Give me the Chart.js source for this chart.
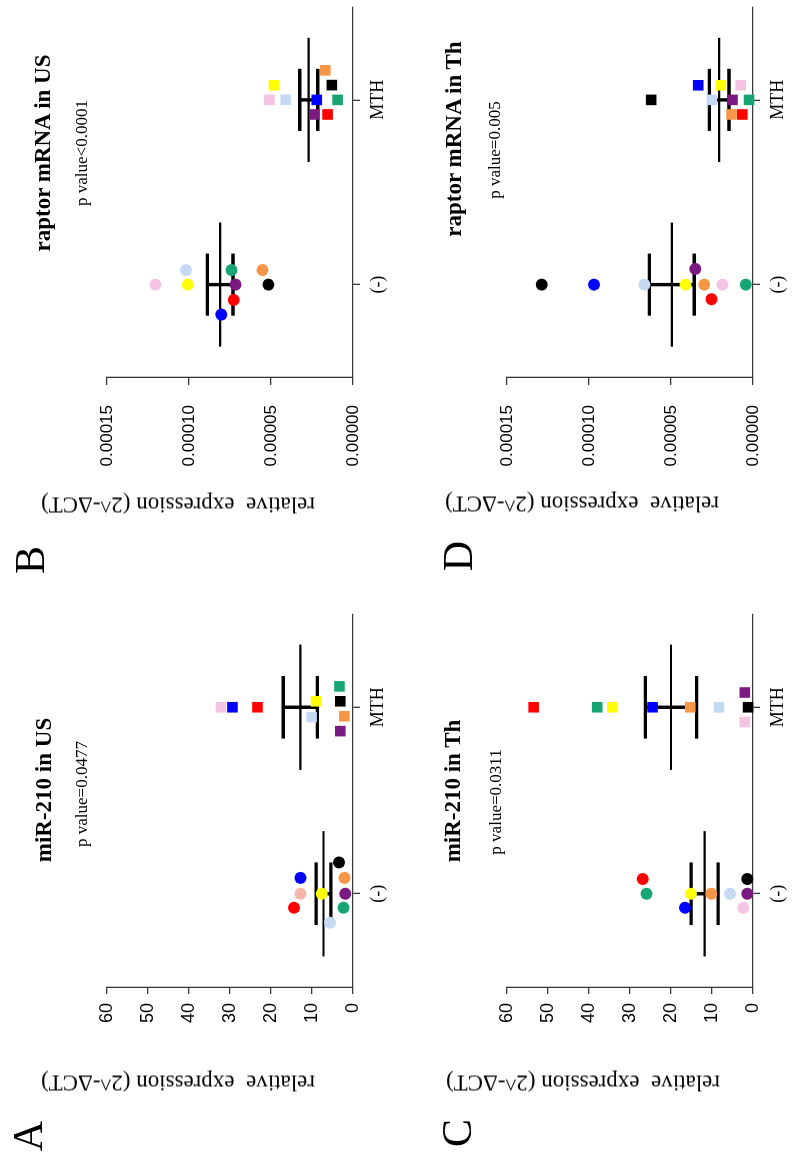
<!DOCTYPE html>
<html>
<head>
<meta charset="utf-8">
<script src="https://cdn.jsdelivr.net/npm/chart.js@4.4.1/dist/chart.umd.min.js"></script>
<style>
  html, body { margin: 0; padding: 0; background: #fff; overflow: hidden; }
  #page { width: 800px; height: 1158px; position: relative; overflow: hidden; }
  /* figure is laid out landscape, then turned a quarter left */
  #fig { position: absolute; left: 0; top: 1158px; width: 1158px; height: 800px;
         transform-origin: 0 0; transform: rotate(-90deg); }
  .panel { position: absolute; width: 579px; height: 400px; }
  .panel canvas { position: absolute; left: 0; top: 0; }
  .txt { position: absolute; transform: translate(-50%, -50%); white-space: pre;
         font-family: "Liberation Serif", "Times New Roman", serif; color: #000; line-height: 1; }
  .ttl { font-weight: bold; font-size: 23px; }
  .pv { font-size: 17px; }
  .ylab { font-size: 23px; transform: translate(-50%, -50%) rotate(-90deg); }
  .letter { font-size: 42px; }
</style>
</head>
<body>
<div id="page">
  <div id="fig">
    <div class="panel" id="pA" style="left:0;top:0"><canvas id="cA" width="579" height="400"></canvas></div>
    <div class="panel" id="pB" style="left:579px;top:0"><canvas id="cB" width="579" height="400"></canvas></div>
    <div class="panel" id="pC" style="left:0;top:400px"><canvas id="cC" width="579" height="400"></canvas></div>
    <div class="panel" id="pD" style="left:579px;top:400px"><canvas id="cD" width="579" height="400"></canvas></div>
  </div>
</div>
<script>
/* ---------- DATA ---------- */
const groups = ["(-)", "MTH"];
// sample order: red, pink, blue, yellow, light blue, black, orange, purple, green
const sampleColors = ["#ff0000", "#f4c4e2", "#0000ff", "#ffff00", "#c5daf2", "#000000", "#f79646", "#7b1a80", "#17a673"];
const sampleColorsA = ["#ff0000", "#f3b6ad", "#0000ff", "#ffff00", "#c5daf2", "#000000", "#f79646", "#7b1a80", "#17a673"];

// A: miR-210 in US
const aCtrl    = [14.4, 12.8, 12.8, 7.6, 5.6, 3.4, 2.1, 1.9, 2.3];
const aCtrlJit = [-0.075, 0, 0.085, 0, -0.155, 0.168, 0.085, 0, -0.075];
const aMth     = [23.3, 32.2, 29.4, 9.0, 10.1, 3.1, 2.1, 3.1, 3.3];
const aMthJit  = [0, 0, 0, 0.032, -0.053, 0.032, -0.048, -0.128, 0.112];
const aMean = [7.2, 12.85];
const aSem  = [1.8, 4.15];

// B: raptor mRNA in US
const bCtrl    = [7.27e-5, 12.05e-5, 8.03e-5, 10.08e-5, 10.18e-5, 5.16e-5, 5.52e-5, 7.17e-5, 7.41e-5];
const bCtrlJit = [-0.083, 0, -0.162, 0, 0.079, 0, 0.079, 0, 0.079];
const bMth     = [1.55e-5, 5.10e-5, 2.21e-5, 4.82e-5, 4.10e-5, 1.29e-5, 1.69e-5, 2.35e-5, 0.94e-5];
const bMthJit  = [-0.079, 0, 0, 0.079, 0, 0.08, 0.16, -0.079, 0];
const bMean = [8.1e-5, 2.7e-5];
const bSem  = [0.78e-5, 0.55e-5];

// C: miR-210 in Th
const cCtrl    = [26.9, 2.4, 16.6, 15.1, 5.6, 1.4, 10.2, 1.4, 26.0];
const cCtrlJit = [0.079, -0.075, -0.075, 0, 0, 0.079, 0, 0, 0];
const cMth     = [53.5, 2.0, 24.5, 34.3, 8.3, 1.2, 15.3, 2.0, 38.0];
const cMthJit  = [0, -0.079, 0, 0, 0, 0, 0, 0.079, 0];
const cMean = [11.8, 20.0];
const cSem  = [3.3, 6.25];

// D: raptor mRNA in Th
const dCtrl    = [2.53e-5, 1.86e-5, 9.70e-5, 4.12e-5, 6.61e-5, 12.88e-5, 2.97e-5, 3.52e-5, 0.44e-5];
const dCtrlJit = [-0.079, 0, 0, 0, 0, 0, 0, 0.085, 0];
const dMth     = [0.65e-5, 0.75e-5, 3.34e-5, 1.96e-5, 2.51e-5, 6.21e-5, 1.31e-5, 1.25e-5, 0.24e-5];
const dMthJit  = [-0.079, 0.079, 0.079, 0.079, 0, 0, -0.079, 0, 0];
const dMean = [4.95e-5, 2.06e-5];
const dSem  = [1.37e-5, 0.60e-5];

const ticksMir = [0, 10, 20, 30, 40, 50, 60];
const ticksRaptor = [0, 0.00005, 0.00010, 0.00015];

/* ---------- HELPERS ---------- */
const AXIS = "#3a3a3a";

function pts(values, jit, gi) {
  return values.map((v, i) => ({ x: gi + jit[i], y: v }));
}

function meanLines(means) {
  const out = [];
  means.forEach((m, gi) => {
    out.push({ x: gi - 0.336, y: m }, { x: gi + 0.336, y: m }, { x: gi, y: null });
  });
  return out;
}

function semBars(means, sems) {
  const out = [];
  means.forEach((m, gi) => {
    const hi = m + sems[gi], lo = m - sems[gi];
    out.push({ x: gi - 0.168, y: hi }, { x: gi + 0.168, y: hi }, { x: gi, y: null });
    out.push({ x: gi - 0.168, y: lo }, { x: gi + 0.168, y: lo }, { x: gi, y: null });
    out.push({ x: gi, y: lo }, { x: gi, y: hi }, { x: gi, y: null });
  });
  return out;
}

function makePanel(p) {
  const ticks = p.ticks;
  new Chart(document.getElementById(p.canvas), {
    type: "scatter",
    data: {
      datasets: [
        { data: pts(p.ctrl, p.ctrlJit, 0), pointStyle: "circle", pointRadius: 6,
          backgroundColor: p.colorsCtrl, borderWidth: 0, clip: false, order: 0 },
        { data: pts(p.mth, p.mthJit, 1), pointStyle: "rect", pointRadius: 7.5,
          backgroundColor: sampleColors, borderWidth: 0, clip: false, order: 0 },
        { type: "line", data: meanLines(p.mean), borderColor: "#000", borderWidth: 2.2,
          pointRadius: 0, fill: false, spanGaps: false, clip: false, order: 1 },
        { type: "line", data: semBars(p.mean, p.sem), borderColor: "#000", borderWidth: 3.4,
          pointRadius: 0, fill: false, spanGaps: false, clip: false, order: 1 }
      ]
    },
    options: {
      responsive: false,
      animation: false,
      devicePixelRatio: 1,
      events: [],
      layout: { padding: { top: 107, right: p.padRight, left: 0, bottom: 0 } },
      plugins: { legend: { display: false }, tooltip: { enabled: false } },
      scales: {
        x: {
          type: "linear", min: -0.5, max: 1.5,
          afterBuildTicks: s => { s.ticks = [{ value: 0 }, { value: 1 }]; },
          afterFit: s => { s.height = 47; },
          grid: { drawOnChartArea: false, tickLength: 7, color: AXIS, lineWidth: 1.3 },
          border: { color: AXIS, width: 1.3 },
          ticks: { padding: 7, color: "#000", callback: v => groups[v],
                   font: { family: "Liberation Serif", size: 18 } }
        },
        y: {
          min: 0, max: ticks[ticks.length - 1],
          afterBuildTicks: s => { s.ticks = ticks.map(v => ({ value: v })); },
          afterFit: s => { s.width = p.axisLeft; },
          grid: { drawOnChartArea: false, tickLength: p.tickLen, color: AXIS, lineWidth: 1.3 },
          border: { color: AXIS, width: 1.3 },
          ticks: { padding: p.tickPad, color: "#000", callback: p.fmt,
                   font: { family: "Liberation Sans", size: p.tickSize } }
        }
      }
    }
  });

  const host = document.getElementById(p.panel);
  const add = (cls, text, x, y) => {
    const d = document.createElement("div");
    d.className = "txt " + cls;
    d.textContent = text;
    d.style.left = x + "px";
    d.style.top = y + "px";
    host.appendChild(d);
  };
  add("ttl", p.title, p.titlePos[0], p.titlePos[1]);
  add("pv", p.pval, p.pPos[0], p.pPos[1]);
  add("ylab", "relative  expression (2^-\u0394CT)", p.yPos[0], p.yPos[1]);
  add("letter", p.letter, p.letterPos[0], p.letterPos[1]);
}

/* ---------- PANELS ---------- */
const fmtMir = v => String(v);
const fmtRap = v => Number(v).toFixed(5);

makePanel({ canvas: "cA", panel: "pA", letter: "A", title: "miR-210 in US", pval: "p value=0.0477",
  ctrl: aCtrl, ctrlJit: aCtrlJit, mth: aMth, mthJit: aMthJit, mean: aMean, sem: aSem,
  colorsCtrl: sampleColorsA, ticks: ticksMir, fmt: fmtMir,
  axisLeft: 171, padRight: 35, tickLen: 7, tickPad: 9, tickSize: 18,
  titlePos: [368, 43], pPos: [364, 81], yPos: [75, 178], letterPos: [22, 28] });

makePanel({ canvas: "cB", panel: "pB", letter: "B", title: "raptor mRNA in US", pval: "p value<0.0001",
  ctrl: bCtrl, ctrlJit: bCtrlJit, mth: bMth, mthJit: bMthJit, mean: bMean, sem: bSem,
  colorsCtrl: sampleColors, ticks: ticksRaptor, fmt: fmtRap,
  axisLeft: 202, padRight: 3, tickLen: 8, tickPad: 20, tickSize: 17,
  titlePos: [426, 42], pPos: [426, 81], yPos: [74, 178], letterPos: [19, 30] });

makePanel({ canvas: "cC", panel: "pC", letter: "C", title: "miR-210 in Th", pval: "p value=0.0311",
  ctrl: cCtrl, ctrlJit: cCtrlJit, mth: cMth, mthJit: cMthJit, mean: cMean, sem: cSem,
  colorsCtrl: sampleColors, ticks: ticksMir, fmt: fmtMir,
  axisLeft: 171, padRight: 35, tickLen: 7, tickPad: 9, tickSize: 18,
  titlePos: [367, 52], pPos: [356, 95], yPos: [75, 183], letterPos: [25, 57] });

makePanel({ canvas: "cD", panel: "pD", letter: "D", title: "raptor mRNA in Th", pval: "p value=0.005",
  ctrl: dCtrl, ctrlJit: dCtrlJit, mth: dMth, mthJit: dMthJit, mean: dMean, sem: dSem,
  colorsCtrl: sampleColors, ticks: ticksRaptor, fmt: fmtRap,
  axisLeft: 202, padRight: 3, tickLen: 8, tickPad: 20, tickSize: 17,
  titlePos: [440, 53], pPos: [429, 94], yPos: [75, 182], letterPos: [23, 58] });
</script>
</body>
</html>
